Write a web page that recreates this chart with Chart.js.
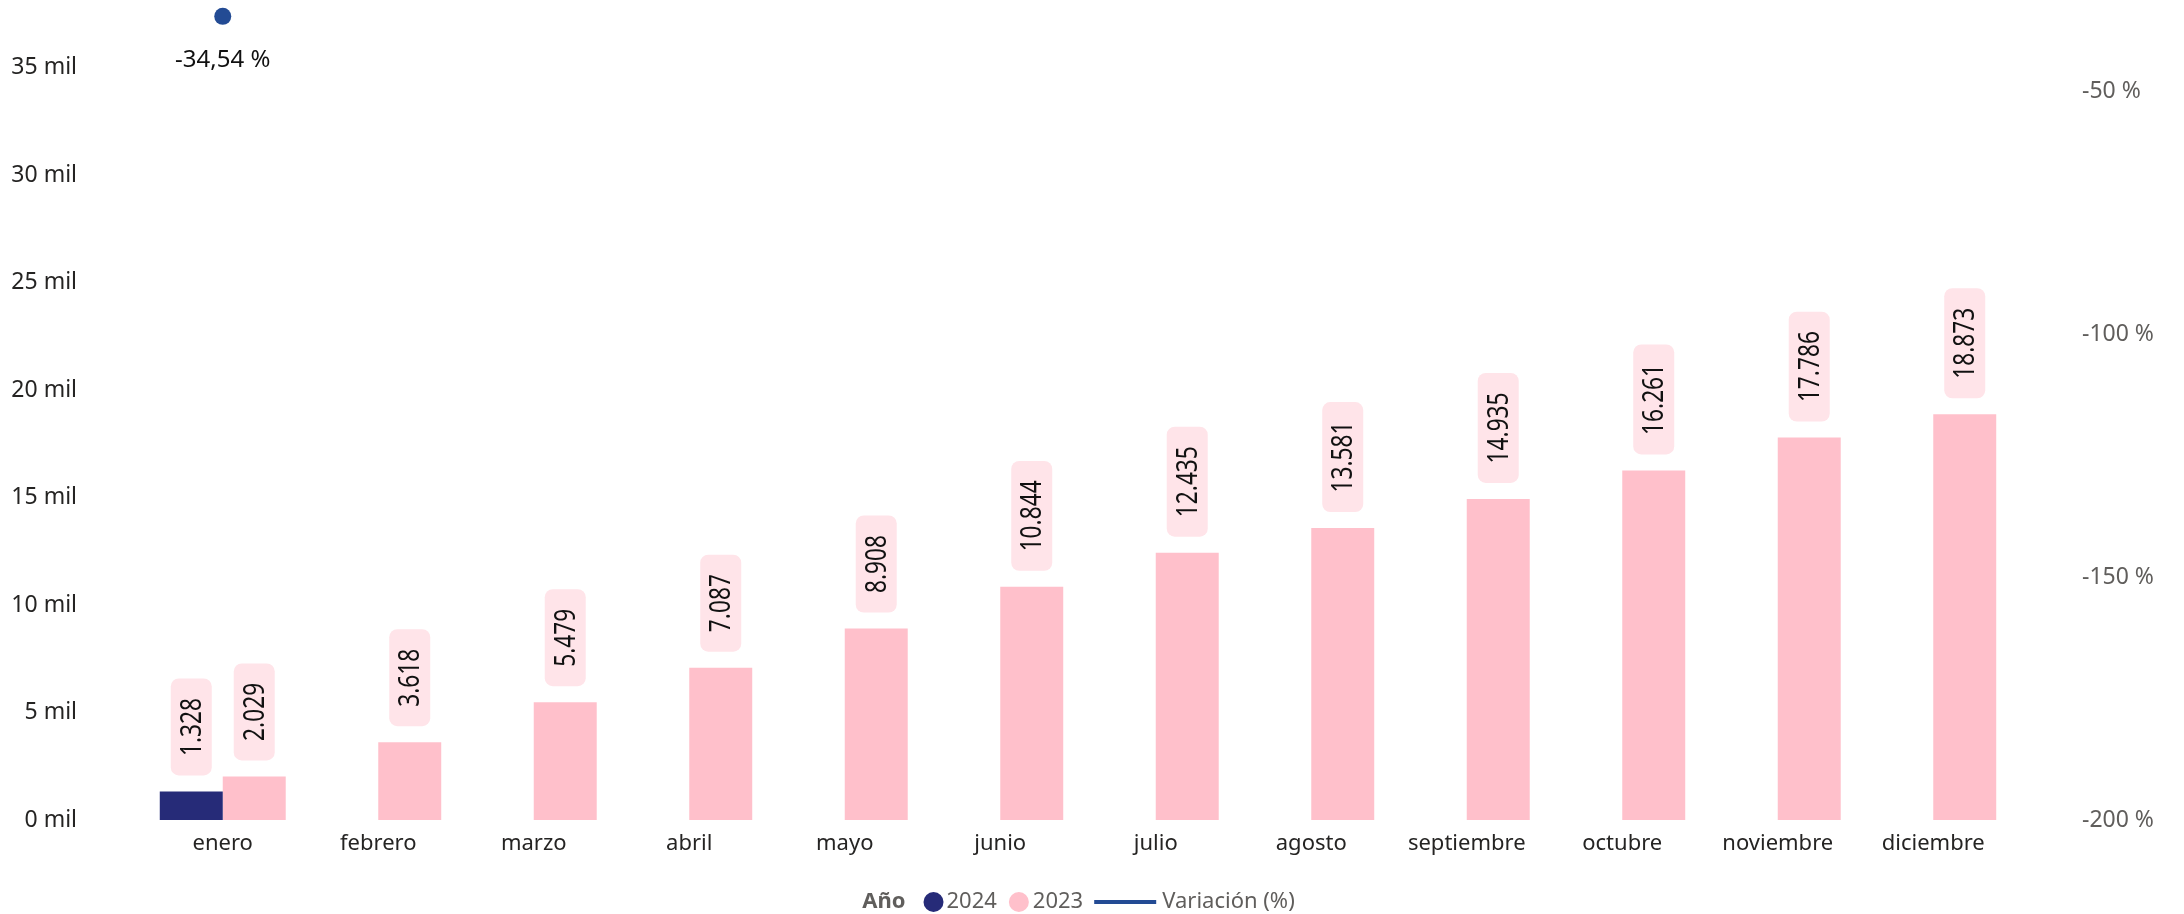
<!DOCTYPE html>
<html>
<head>
<meta charset="utf-8">
<script src="https://cdn.jsdelivr.net/npm/chart.js@4.4.1/dist/chart.umd.min.js"></script>
<style>
html,body{margin:0;padding:0;background:#fff;}
#wrap{width:2184px;height:914px;position:relative;}
</style>
</head>
<body>
<div id="wrap"><canvas id="c"></canvas></div>
<script>
const categories = ['enero','febrero','marzo','abril','mayo','junio','julio','agosto','septiembre','octubre','noviembre','diciembre'];
const values2024 = [1328, null, null, null, null, null, null, null, null, null, null, null];
const values2023 = [2029, 3618, 5479, 7087, 8908, 10844, 12435, 13581, 14935, 16261, 17786, 18873];
const variacion = [-34.54, null, null, null, null, null, null, null, null, null, null, null];
const leftTicks = [0, 5000, 10000, 15000, 20000, 25000, 30000, 35000];
const rightTicks = [-200, -150, -100, -50];
const seriesNames = ['2024', '2023', 'Variación (%)'];
const legendTitle = 'Año';

const FONT = "'Segoe UI', 'Noto Sans', sans-serif";
const C2024 = '#262B78', C2023 = '#FFC0CB', CVAR = '#234B94', CBOX = '#FFE4E9';

function fmtThousands(v){
  return String(Math.round(v)).replace(/\B(?=(\d{3})+(?!\d))/g, '.');
}
function fmtPct(v){
  return v.toFixed(2).replace('.', ',') + ' %';
}

const labelPlugin = {
  id: 'labels',
  afterDatasetsDraw(chart){
    const ctx = chart.ctx;
    ctx.save();
    [0,1].forEach(di => {
      const meta = chart.getDatasetMeta(di);
      const data = chart.data.datasets[di].data;
      meta.data.forEach((el, i) => {
        if (data[i] === null || data[i] === undefined) return;
        const txt = fmtThousands(data[i]);
        ctx.font = '22.7px ' + FONT;
        const tw = ctx.measureText(txt).width;
        const len = tw + 39, w = 41;
        const bottom = el.y - 16;
        const top = bottom - len;
        ctx.fillStyle = CBOX;
        ctx.beginPath();
        ctx.roundRect(el.x - w/2, top, w, len, 8);
        ctx.fill();
        ctx.save();
        ctx.translate(el.x, (top + bottom)/2);
        ctx.rotate(-Math.PI/2);
        ctx.scale(1, 1.28);
        ctx.fillStyle = '#111';
        ctx.textAlign = 'center';
        ctx.textBaseline = 'middle';
        ctx.fillText(txt, 0, 1);
        ctx.restore();
      });
    });
    const lm = chart.getDatasetMeta(2);
    lm.data.forEach((el, i) => {
      const v = chart.data.datasets[2].data[i];
      if (v === null || v === undefined) return;
      ctx.font = '24px ' + FONT;
      ctx.fillStyle = '#111';
      ctx.textAlign = 'center';
      ctx.textBaseline = 'middle';
      ctx.fillText(fmtPct(v), el.x, el.y + 44);
    });
    ctx.restore();
  },
  afterDraw(chart){
    const ctx = chart.ctx;
    ctx.save();
    const y = 902;
    ctx.textBaseline = 'middle';
    ctx.textAlign = 'left';
    ctx.font = 'bold 22px ' + FONT;
    const wT = ctx.measureText(legendTitle).width;
    ctx.font = '22px ' + FONT;
    const w0 = ctx.measureText(seriesNames[0]).width;
    const w1 = ctx.measureText(seriesNames[1]).width;
    const w2 = ctx.measureText(seriesNames[2]).width;
    const total = wT + 18 + 20 + 3 + w0 + 12 + 20 + 4 + w1 + 11 + 62 + 6 + w2;
    let x = 1078.5 - total/2;
    ctx.fillStyle = '#605E5C';
    ctx.font = 'bold 22px ' + FONT;
    ctx.fillText(legendTitle, x, y);
    x += wT + 18;
    ctx.fillStyle = C2024;
    ctx.beginPath(); ctx.arc(x + 10, y, 10, 0, Math.PI*2); ctx.fill();
    x += 20 + 3;
    ctx.font = '22px ' + FONT;
    ctx.fillStyle = '#605E5C';
    ctx.fillText(seriesNames[0], x, y);
    x += w0 + 12;
    ctx.fillStyle = C2023;
    ctx.beginPath(); ctx.arc(x + 10, y, 10, 0, Math.PI*2); ctx.fill();
    x += 20 + 4;
    ctx.fillStyle = '#605E5C';
    ctx.fillText(seriesNames[1], x, y);
    x += w1 + 11;
    ctx.fillStyle = CVAR;
    ctx.fillRect(x, y - 2, 62, 4);
    x += 62 + 6;
    ctx.fillStyle = '#605E5C';
    ctx.fillText(seriesNames[2], x, y);
    ctx.restore();
  }
};

new Chart(document.getElementById('c'), {
  data: {
    labels: categories,
    datasets: [
      { type: 'bar', label: seriesNames[0], data: values2024, backgroundColor: C2024, yAxisID: 'y', categoryPercentage: 0.81, barPercentage: 1.0, order: 2 },
      { type: 'bar', label: seriesNames[1], data: values2023, backgroundColor: C2023, yAxisID: 'y', categoryPercentage: 0.81, barPercentage: 1.0, order: 2 },
      { type: 'line', label: seriesNames[2], data: variacion, borderColor: CVAR, backgroundColor: CVAR, pointBackgroundColor: CVAR, pointBorderWidth: 0, pointRadius: 8.5, borderWidth: 4, yAxisID: 'y1', order: 1, clip: false }
    ]
  },
  options: {
    responsive: true,
    maintainAspectRatio: false,
    animation: false,
    layout: { autoPadding: false, padding: { top: 0, left: 0, right: 0, bottom: 34 } },
    plugins: { legend: { display: false }, tooltip: { enabled: false } },
    scales: {
      x: {
        grid: { display: false, drawTicks: false },
        border: { display: false },
        ticks: { color: '#252423', font: { family: FONT, size: 22 }, padding: 11, maxRotation: 0, autoSkip: false },
        afterFit(s){ s.height = 60; }
      },
      y: {
        position: 'left',
        min: 0, max: 38140,
        grid: { display: false, drawTicks: false },
        border: { display: false },
        ticks: { color: '#252423', font: { family: FONT, size: 23 }, padding: 68, callback: v => (v/1000) + ' mil' },
        afterBuildTicks(s){ s.ticks = leftTicks.map(v => ({ value: v })); },
        afterFit(s){ s.width = 145; s.paddingTop = 0; s.paddingBottom = 0; }
      },
      y1: {
        position: 'right',
        min: -200, max: -31.17,
        grid: { display: false, drawTicks: false },
        border: { display: false },
        ticks: { color: '#605E5C', font: { family: FONT, size: 23 }, padding: 71, callback: v => v + ' %' },
        afterBuildTicks(s){ s.ticks = rightTicks.map(v => ({ value: v })); },
        afterFit(s){ s.width = 173; s.paddingTop = 0; s.paddingBottom = 0; }
      }
    }
  },
  plugins: [labelPlugin]
});
</script>
</body>
</html>
